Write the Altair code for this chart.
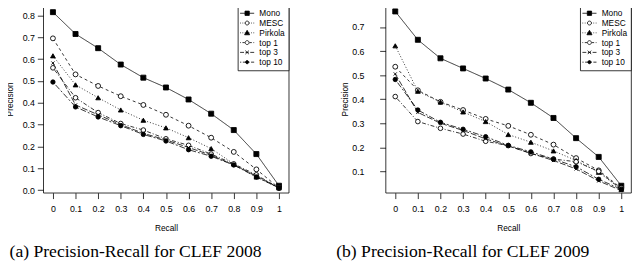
import altair as alt
import pandas as pd

recall = [0, 0.1, 0.2, 0.3, 0.4, 0.5, 0.6, 0.7, 0.8, 0.9, 1.0]
series = ["Mono", "MESC", "Pirkola", "top 1", "top 3", "top 10"]

# CLEF 2008
a_mono = [0.815, 0.715, 0.65, 0.575, 0.515, 0.47, 0.415, 0.35, 0.275, 0.165, 0.02]
a_mesc = [0.695, 0.53, 0.477, 0.43, 0.39, 0.345, 0.295, 0.24, 0.175, 0.095, 0.01]
a_pirkola = [0.615, 0.482, 0.423, 0.367, 0.32, 0.285, 0.24, 0.19, 0.12, 0.06, 0.01]
a_top1 = [0.56, 0.423, 0.355, 0.305, 0.275, 0.235, 0.205, 0.165, 0.12, 0.07, 0.01]
a_top3 = [0.582, 0.39, 0.345, 0.3, 0.26, 0.23, 0.195, 0.16, 0.115, 0.065, 0.01]
a_top10 = [0.495, 0.381, 0.335, 0.295, 0.255, 0.225, 0.185, 0.155, 0.115, 0.06, 0.01]

# CLEF 2009
b_mono = [0.765, 0.647, 0.57, 0.528, 0.486, 0.44, 0.385, 0.322, 0.238, 0.16, 0.04]
b_mesc = [0.535, 0.437, 0.389, 0.355, 0.318, 0.289, 0.252, 0.211, 0.155, 0.104, 0.03]
b_pirkola = [0.622, 0.433, 0.388, 0.347, 0.307, 0.253, 0.221, 0.185, 0.145, 0.096, 0.025]
b_top1 = [0.411, 0.307, 0.279, 0.255, 0.225, 0.207, 0.174, 0.151, 0.14, 0.1, 0.025]
b_top3 = [0.505, 0.345, 0.3, 0.27, 0.235, 0.205, 0.175, 0.145, 0.11, 0.06, 0.02]
b_top10 = [0.482, 0.355, 0.304, 0.275, 0.244, 0.208, 0.181, 0.151, 0.119, 0.067, 0.025]

x_ticks = [0, 0.1, 0.2, 0.3, 0.4, 0.5, 0.6, 0.7, 0.8, 0.9, 1.0]
a_yticks = [0.0, 0.1, 0.2, 0.3, 0.4, 0.5, 0.6, 0.7, 0.8]
b_yticks = [0.1, 0.2, 0.3, 0.4, 0.5, 0.6, 0.7]

dashes = [[1, 0], [3, 3], [1, 2], [1, 2, 4, 2], [6, 2], [2, 2, 6, 2]]
shapes = ["square", "circle", "triangle-up", "circle",
          "M-0.7,-0.7L0.7,0.7M-0.7,0.7L0.7,-0.7", "circle"]
sizes = [26, 20, 28, 18, 16, 10]
fills = ["black", "white", "black", "white", "transparent", "black"]
strokes = ["black"] * 6

# legend glyphs: line segment + marker (unit space, scaled by symbol size)
seg = {
    "solid": "M-1.8,0H1.8",
    "dot": "M-1.8,0H-1.6M-1.2,0H-1.0M-0.6,0H-0.4M0.4,0H0.6M1.0,0H1.2M1.6,0H1.8",
    "dotdash": "M-1.8,0H-1.6M-1.2,0H-0.6M0.6,0H1.2M1.6,0H1.8",
    "long": "M-1.8,0H-0.8M-0.4,0H0.4M0.8,0H1.8",
    "twodash": "M-1.8,0H-1.5M-1.1,0H-0.1M0.3,0H0.6M1.0,0H1.8",
}
mk = {
    "square": "M-0.55,-0.55H0.55V0.55H-0.55Z",
    "circle": "M0.5,0A0.5,0.5 0 1,1 -0.5,0A0.5,0.5 0 1,1 0.5,0Z",
    "tri": "M0,-0.65L0.65,0.5L-0.65,0.5Z",
    "x": "M-0.45,-0.45L0.45,0.45M-0.45,0.45L0.45,-0.45",
    "dotc": "M0.4,0A0.4,0.4 0 1,1 -0.4,0A0.4,0.4 0 1,1 0.4,0Z",
}
legend_shapes = [
    seg["solid"] + mk["square"],
    seg["dot"] + mk["circle"],
    seg["dot"] + mk["tri"],
    seg["dotdash"] + mk["circle"],
    seg["long"] + mk["x"],
    seg["twodash"] + mk["dotc"],
]


def make_df(vals):
    rows = []
    for name, v in zip(series, vals):
        for r, p in zip(recall, v):
            rows.append({"Recall": r, "Precision": p, "series": name})
    return pd.DataFrame(rows)


def make_legend():
    return alt.Legend(
        title=None, orient="top-right", offset=0, padding=4,
        strokeColor="black", fillColor="white",
        symbolStrokeColor="black", symbolStrokeWidth=0.8, symbolSize=64,
        symbolOpacity=1, symbolOffset=1, labelOffset=8,
    )


def panel(vals, ydomain, yticks, caption, label_pad, title_pad, dx):
    df = make_df(vals)
    x = alt.X("Recall:Q", scale=alt.Scale(domain=[-0.043, 1.043], nice=False, zero=False),
              axis=alt.Axis(values=x_ticks, format="~g", title="Recall"))
    y = alt.Y("Precision:Q", scale=alt.Scale(domain=ydomain, nice=False, zero=False),
              axis=alt.Axis(values=yticks, format=".1f", title="Precision",
                            labelPadding=label_pad, titlePadding=title_pad))
    base = alt.Chart(df)
    lines = base.mark_line(color="black", strokeWidth=0.8, clip=True).encode(
        x=x, y=y,
        detail="series:N",
        strokeDash=alt.StrokeDash("series:N", scale=alt.Scale(domain=series, range=dashes), legend=None),
    )
    pts = base.mark_point(stroke="black", strokeWidth=0.9, opacity=1, clip=True).encode(
        x=x, y=y,
        shape=alt.Shape("series:N", scale=alt.Scale(domain=series, range=shapes), legend=None),
        fill=alt.Fill("series:N", scale=alt.Scale(domain=series, range=fills), legend=None),
        size=alt.Size("series:N", scale=alt.Scale(domain=series, range=sizes), legend=None),
    )
    leg = base.transform_filter("false").mark_point(strokeWidth=0.9, opacity=1).encode(
        x=x, y=y,
        shape=alt.Shape("series:N", scale=alt.Scale(domain=series, range=legend_shapes),
                        legend=make_legend()),
        fill=alt.Fill("series:N", scale=alt.Scale(domain=series, range=fills),
                      legend=make_legend()),
        stroke=alt.Stroke("series:N", scale=alt.Scale(domain=series, range=strokes),
                          legend=make_legend()),
    )
    return alt.layer(lines, pts, leg).resolve_scale(
        shape="independent", fill="independent", stroke="independent"
    ).properties(
        width=251, height=192,
        title=alt.TitleParams(caption, orient="bottom", font="Liberation Serif", fontSize=18,
                              fontWeight="normal", color="black", anchor="middle",
                              frame="bounds", dx=dx, offset=11),
    )


left = panel([a_mono, a_mesc, a_pirkola, a_top1, a_top3, a_top10], [-0.012, 0.848],
             a_yticks, "(a) Precision-Recall for CLEF 2008", 3, 8, -12)
right = panel([b_mono, b_mesc, b_pirkola, b_top1, b_top3, b_top10], [0.011, 0.792],
              b_yticks, "(b) Precision-Recall for CLEF 2009", 16, 2, -24)

chart = alt.hconcat(left, right, spacing=47).properties(
    padding={"left": -3, "top": -7, "right": 0, "bottom": 0}
).configure_view(stroke="black", strokeWidth=0.8).configure_axis(
    grid=False, domain=False, tickColor="black", tickSize=6, tickWidth=0.8,
    labelFont="Liberation Sans", labelFontSize=9, labelColor="black",
    titleFont="Liberation Sans", titleFontSize=8.5, titleFontWeight="normal", titleColor="black",
).configure_axisX(labelPadding=6, titlePadding=11).configure_legend(
    labelFont="Liberation Sans", labelFontSize=8.5, labelColor="black",
    rowPadding=1.0, cornerRadius=0, strokeColor="black", strokeWidth=0.8,
)

chart.save("out.html", embed_options={"renderer": "svg", "actions": False})
